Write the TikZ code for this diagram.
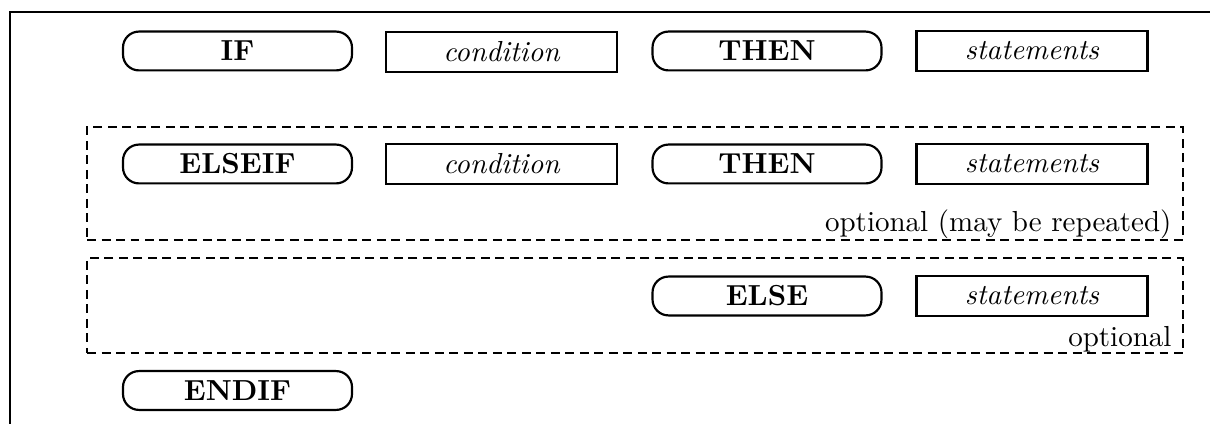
\documentclass[tikz,border=0pt]{standalone}
\begin{document}
\begin{tikzpicture}[x=0.345pt,y=-0.345pt,
  kw/.style={draw, line width=0.75pt, rounded corners=5.5pt, minimum width=79pt, minimum height=13.4pt, inner sep=0pt, font=\bfseries},
  arg/.style={draw, line width=1pt, minimum width=79.7pt, minimum height=13.8pt, inner sep=0pt, font=\itshape},
  optbox/.style={draw, dash pattern=on 3.1pt off 1.9pt, line width=0.6pt, inner sep=0pt},
  optlabel/.style={anchor=base east, inner sep=0pt}]
\useasboundingbox (0,0) rectangle (1210,424);
\coordinate (fbl) at (10,430);
\coordinate (ftl) at (10,12);
\coordinate (ftr) at (1215,12);
\draw[line width=0.7pt] (fbl) -- (ftl) -- (ftr);
% row 1
\node[kw]  (if)    at (237.5,51) {IF\hspace{7pt}};
\node[arg] (cond1) at (501.5,52) {condition};
\node[kw]  (then1) at (767,51) {THEN\hspace{7pt}};
\node[arg] (st1)   at (1032,51) {statements};
% optional box 1
\node[optbox, minimum width=378.1pt, minimum height=39pt] (opt1) at (635,183.5) {};
\node[kw]  (elseif) at (237.5,164) {ELSEIF\hspace{7pt}};
\node[arg] (cond2)  at (501.5,164) {condition};
\node[kw]  (then2)  at (767,164) {THEN\hspace{7pt}};
\node[arg] (st2)    at (1032,164) {statements};
\node[optlabel] (lab1) at (1172,232) {optional (may be repeated)};
% optional box 2
\node[optbox, minimum width=378.1pt, minimum height=32.8pt] (opt2) at (635,305.5) {};
\node[kw]  (else) at (767,296) {ELSE\hspace{7pt}};
\node[arg] (st3)  at (1032,296) {statements};
\node[optlabel] (lab2) at (1172,347) {optional};
% endif
\node[kw] (endif) at (237.5,390.5) {ENDIF\hspace{7pt}};
\end{tikzpicture}
\end{document}
